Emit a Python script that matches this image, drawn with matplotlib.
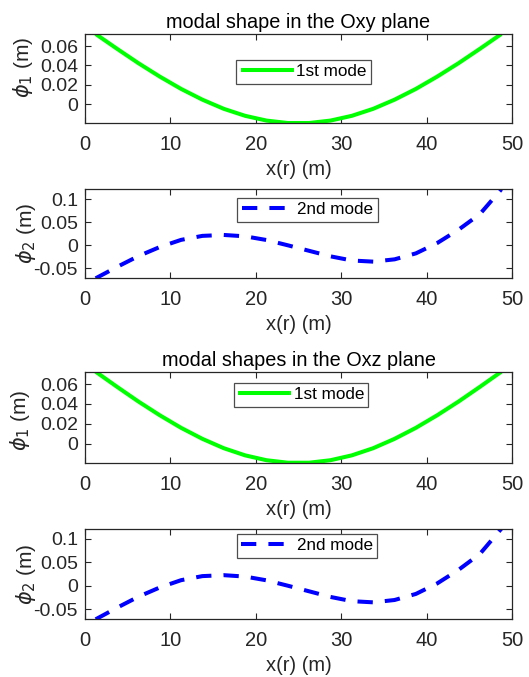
import matplotlib
matplotlib.use("Agg")
import matplotlib.pyplot as plt

plt.rcParams['font.family'] = ['Liberation Sans', 'DejaVu Sans']
plt.rcParams['axes.unicode_minus'] = False

# --- datos ---
x_r = [1.25, 3.75, 6.25, 8.75, 11.25, 13.75, 16.25, 18.75, 21.25, 23.75,
       26.25, 28.75, 31.25, 33.75, 36.25, 38.75, 41.25, 43.75, 46.25, 48.75]

modo1 = [0.0724, 0.0572, 0.0424, 0.0286, 0.0159, 0.0048, -0.0046, -0.0118, -0.0167, -0.0192,
         -0.0192, -0.0167, -0.0118, -0.0046, 0.0048, 0.0159, 0.0286, 0.0424, 0.0572, 0.0724]

modo2 = [-0.0717, -0.0470, -0.0235, -0.0038, 0.0118, 0.0205, 0.0225, 0.0195, 0.0115, 0.0000,
         -0.0120, -0.0240, -0.0330, -0.0355, -0.0305, -0.0175, 0.0050, 0.0340, 0.0680, 0.1217]

xticks = [0, 10, 20, 30, 40, 50]
yticks1 = [0, 0.02, 0.04, 0.06]
ylabels1 = ["0", "0.02", "0.04", "0.06"]
yticks2 = [-0.05, 0, 0.05, 0.1]
ylabels2 = ["-0.05", "0", "0.05", "0.1"]

titulos = ["modal shape in the Oxy plane", "modal shapes in the Oxz plane"]

GRIS = "#262626"


def _fx(px):
    return px / 529.0


def _fy(px):
    return 1.0 - px / 677.0


def panel(fig, top, bottom, y, estilo, etiqueta, yt, yl, ylab, ylab_pos, leg_pos, titulo=None):
    ax = fig.add_axes([_fx(85), _fy(bottom), _fx(512) - _fx(85), _fy(top) - _fy(bottom)])
    if estilo == 1:
        ax.plot(x_r, y, color="#00ff00", linewidth=2.9, label=etiqueta, solid_capstyle="butt")
    else:
        ax.plot(x_r, y, color="#0000ff", linewidth=2.9, linestyle=(0, (3.8, 3.0)),
                label=etiqueta, dash_capstyle="butt")
    ax.set_xlim(0, 50)
    ax.set_ylim(min(y), max(y))
    ax.set_xticks(xticks)
    ax.set_xticklabels([str(t) for t in xticks])
    ax.set_yticks(yt)
    ax.set_yticklabels(yl)
    ax.tick_params(axis='x', direction='in', top=True, length=4, width=0.8, labelsize=14.5,
                   pad=8.5, colors=GRIS)
    ax.tick_params(axis='y', direction='in', right=True, length=4, width=0.8, labelsize=14,
                   pad=5, colors=GRIS)
    for s in ax.spines.values():
        s.set_linewidth(0.9)
        s.set_color(GRIS)
    ax.set_xlabel("x(r) (m)", fontsize=14.5, labelpad=4.5, color=GRIS)
    fig.text(_fx(ylab_pos[0]), _fy(ylab_pos[1]), ylab, rotation=90, ha='center', va='center',
             fontsize=15, color=GRIS)
    if titulo:
        ax.set_title(titulo, fontsize=14.3, pad=4, color="black")
    leg = ax.legend(loc='upper center', bbox_to_anchor=leg_pos, fontsize=12.3,
                    handlelength=3.1, handletextpad=0.15, borderpad=0.25, borderaxespad=0,
                    fancybox=False, framealpha=1, edgecolor="0.3")
    leg.get_frame().set_linewidth(0.9)
    return ax


fig = plt.figure(figsize=(5.29, 6.77), dpi=100)

panel(fig, 34, 123, modo1, 1, "1st mode", yticks1, ylabels1, r"$\phi_1$ (m)",
      (23, 67), (0.512, 0.708), titulos[0])
panel(fig, 189.3, 278.3, modo2, 2, "2nd mode", yticks2, ylabels2, r"$\phi_2$ (m)",
      (26, 233), (0.521, 0.902))
panel(fig, 371.7, 462.7, modo1, 1, "1st mode", yticks1, ylabels1, r"$\phi_1$ (m)",
      (20, 420), (0.506, 0.876), titulos[1])
panel(fig, 528.7, 619.3, modo2, 2, "2nd mode", yticks2, ylabels2, r"$\phi_2$ (m)",
      (26, 574), (0.52, 0.94))

fig.savefig("out.png", dpi=100)
